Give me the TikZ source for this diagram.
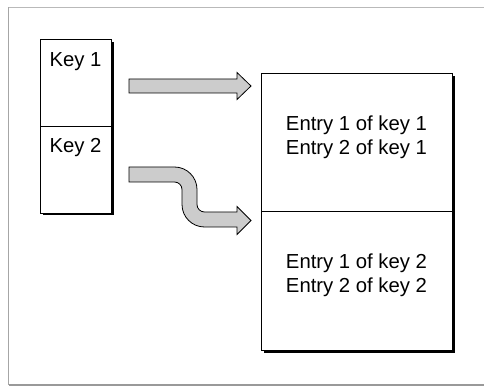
\documentclass[tikz,border=0pt]{standalone}
\usepackage{fontspec}
\setmainfont{Liberation Sans}
\begin{document}
\begin{tikzpicture}[x=1pt,y=-1pt,
  boxline/.style={draw=black,line width=0.9pt,fill=white},
  shadowfill/.style={fill=black},
  arrowshape/.style={draw=black,line width=0.8pt,fill=arrowgray,line join=miter},
  lbl/.style={font=\fontsize{20.3}{24.4}\selectfont,inner sep=0pt,anchor=base},
  framegray/.style={draw=gray!70,line width=1pt}]
\definecolor{arrowgray}{RGB}{204,204,204}
\useasboundingbox (0,0) rectangle (484,387);
% outer frame
\draw[draw=gray!55,line width=1pt] (8.5,7.5) -- (484,7.5);
\draw[framegray] (8.5,7.5) -- (8.5,385);
\draw[draw=gray!80,line width=1.5pt] (8.5,385) -- (484,385);
% left box (keys)
\fill[shadowfill] (43,42) rectangle (113.5,215.5);
\draw[boxline] (40,39) rectangle (111,213);
\draw[line width=0.9pt] (40,126) -- (111,126);
\node[lbl] (key1) at (75.5,67) {Key 1};
\node[lbl] (key2) at (75.5,153) {Key 2};
% right box (entries)
\fill[shadowfill] (264,76) rectangle (455,353);
\draw[boxline] (261,73) rectangle (452,350);
\draw[line width=0.9pt] (261,211.5) -- (452,211.5);
\node[lbl] (e11) at (356.5,130.5) {Entry 1 of key 1};
\node[lbl] (e21) at (356.5,154.5) {Entry 2 of key 1};
\node[lbl] (e12) at (356.5,269) {Entry 1 of key 2};
\node[lbl] (e22) at (356.5,292.5) {Entry 2 of key 2};
% straight arrow
\draw[arrowshape] (129,79) -- (237,79) -- (237,72.5) -- (251,86) -- (237,99.5)
  -- (237,93) -- (129,93) -- cycle;
% bent arrow
\draw[arrowshape] (129,167) -- (174.5,167)
  arc[start angle=-90,end angle=0,radius=22.5]
  -- (197,204.5)
  arc[start angle=180,end angle=90,radius=7.5]
  -- (237,212) -- (237,206.5) -- (251,220.5) -- (237,234.5) -- (237,227)
  -- (204.5,227)
  arc[start angle=90,end angle=180,radius=22.5]
  -- (182,189.5)
  arc[start angle=0,end angle=-90,radius=7.5]
  -- (129,182) -- cycle;
\end{tikzpicture}
\end{document}
